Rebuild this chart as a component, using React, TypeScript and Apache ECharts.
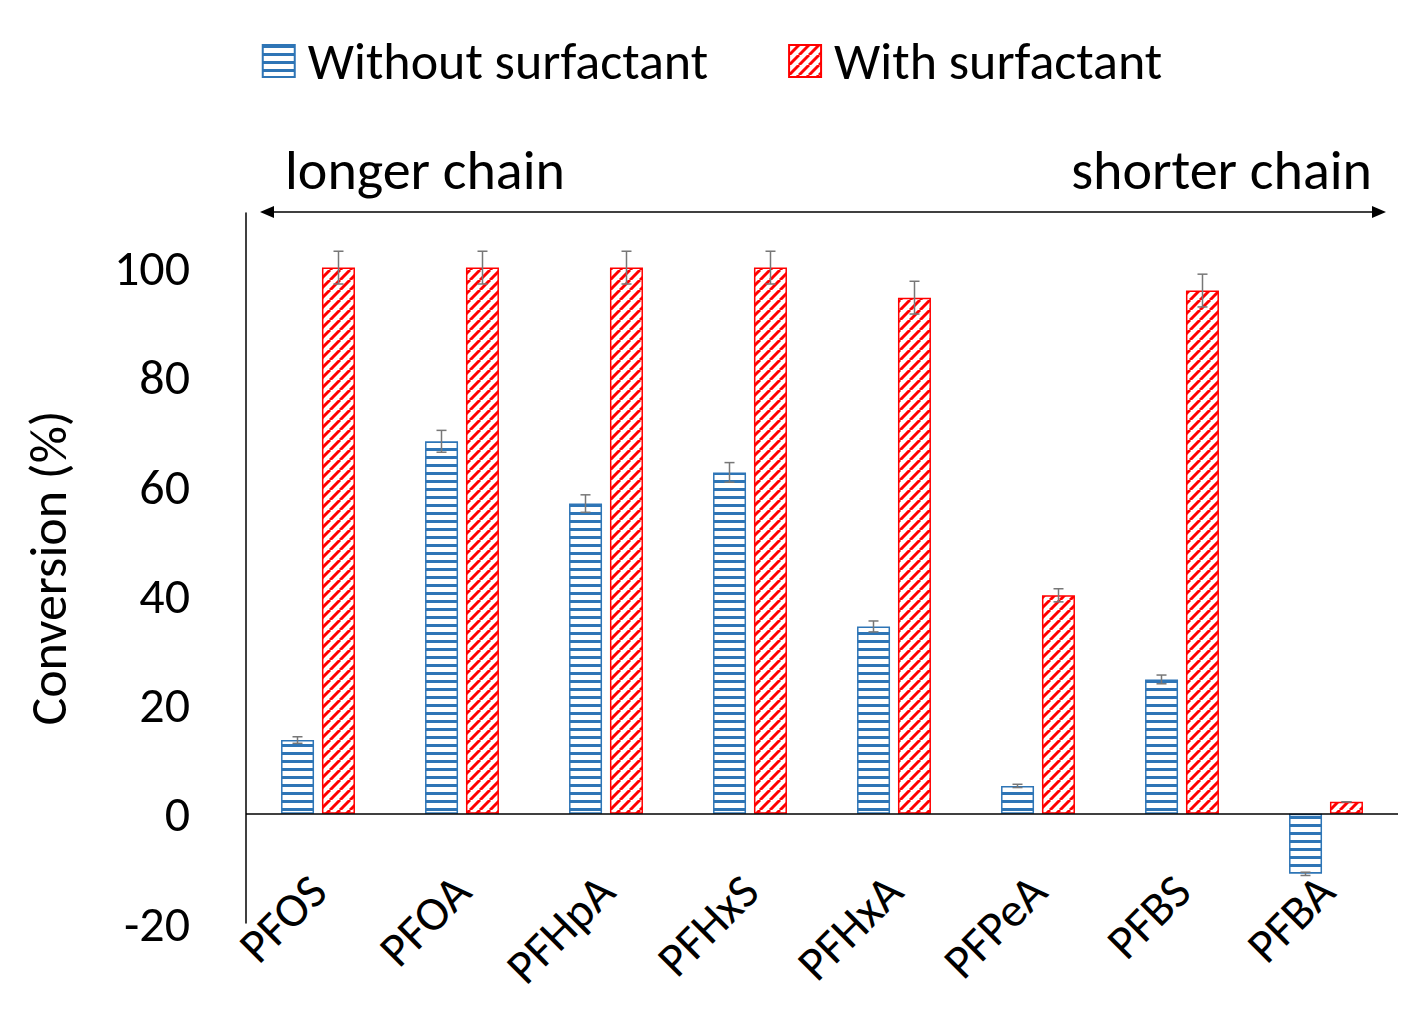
import * as echarts from 'echarts';
import { useEffect, useRef } from 'react';

const categories = ['PFOS', 'PFOA', 'PFHpA', 'PFHxS', 'PFHxA', 'PFPeA', 'PFBS', 'PFBA'];
const withoutValues = [13.5, 68.2, 56.8, 62.5, 34.3, 5.1, 24.6, -11];
const withoutErrors = [0.6, 2.0, 1.6, 1.8, 1.0, 0.3, 0.8, 0.3];
const withValues = [100, 100, 100, 100, 94.5, 40, 95.8, 2.2];
const withErrors = [3, 3, 3, 3, 3, 1.2, 3, 0];
const yTicks = [-20, 0, 20, 40, 60, 80, 100];

const FONT = "Calibri, Carlito, 'Open Sans', 'Noto Sans', sans-serif";

function stripePattern(): HTMLCanvasElement {
  const c = document.createElement('canvas');
  c.width = 8;
  c.height = 8;
  const ctx = c.getContext('2d')!;
  ctx.fillStyle = '#fff';
  ctx.fillRect(0, 0, 8, 8);
  ctx.fillStyle = '#2e75b6';
  ctx.fillRect(0, 0, 8, 3);
  return c;
}

function hatchPattern(): HTMLCanvasElement {
  const s = 10;
  const c = document.createElement('canvas');
  c.width = s;
  c.height = s;
  const ctx = c.getContext('2d')!;
  ctx.fillStyle = '#fff';
  ctx.fillRect(0, 0, s, s);
  ctx.strokeStyle = '#ff0000';
  ctx.lineWidth = 3;
  for (const o of [-s, 0, s]) {
    ctx.beginPath();
    ctx.moveTo(o, s);
    ctx.lineTo(o + s, 0);
    ctx.stroke();
  }
  return c;
}

export default function App() {
  const ref = useRef<HTMLDivElement>(null);

  useEffect(() => {
    const chart = echarts.init(ref.current!, null, { renderer: 'svg' });
    const blue = { image: stripePattern(), repeat: 'repeat' } as any;
    const red = { image: hatchPattern(), repeat: 'repeat' } as any;
    const offset = 20.5;

    const errorSeries = (vals: number[], errs: number[], dx: number) => ({
      type: 'custom',
      z: 5,
      silent: true,
      data: vals.map((v, i) => [i, v, errs[i]]),
      renderItem: (_p: any, api: any) => {
        const i = api.value(0);
        const v = api.value(1);
        const e = api.value(2);
        const top = api.coord([i, v + e]);
        const bot = api.coord([i, v - e]);
        const x = top[0] + dx;
        const st = { stroke: '#777', lineWidth: 1.5 };
        return {
          type: 'group',
          children: [
            { type: 'line', shape: { x1: x, y1: top[1], x2: x, y2: bot[1] }, style: st },
            { type: 'line', shape: { x1: x - 5, y1: top[1], x2: x + 5, y2: top[1] }, style: st },
            { type: 'line', shape: { x1: x - 5, y1: bot[1], x2: x + 5, y2: bot[1] }, style: st },
          ],
        };
      },
    });

    chart.setOption({
      animation: false,
      backgroundColor: '#fff',
      textStyle: { fontFamily: FONT },
      legend: {
        top: 30,
        left: 'center',
        icon: 'rect',
        itemWidth: 32,
        itemHeight: 32,
        itemGap: 80,
        textStyle: { fontSize: 52, color: '#000', fontFamily: FONT, padding: [0, 0, 0, 8] },
        data: ['Without surfactant', 'With surfactant'],
      },
      grid: { left: 246, right: 26, top: 213, bottom: 111 },
      xAxis: {
        type: 'category',
        data: categories,
        axisLine: { show: false },
        axisTick: { show: false },
        axisLabel: {
          rotate: 45,
          fontSize: 48,
          color: '#000',
          margin: -40,
          fontFamily: FONT,
        },
      },
      yAxis: {
        type: 'value',
        min: -20,
        max: 110,
        interval: 20,
        name: 'Conversion (%)',
        nameLocation: 'middle',
        nameGap: 172,
        nameTextStyle: { fontSize: 52, color: '#000', fontFamily: FONT },
        splitLine: { show: false },
        axisLine: { show: true, lineStyle: { color: '#000', width: 1.5 } },
        axisTick: { show: false },
        axisLabel: {
          fontSize: 50,
          color: '#000',
          margin: 56,
          fontFamily: FONT,
          formatter: (v: number) => (yTicks.includes(v) ? String(v) : ''),
        },
      },
      series: [
        {
          name: 'Without surfactant',
          type: 'bar',
          barWidth: 33,
          barGap: '24%',
          data: withoutValues,
          itemStyle: { color: blue, borderColor: '#2e75b6', borderWidth: 1.5 },
          markLine: {
            silent: true,
            symbol: 'none',
            label: { show: false },
            lineStyle: { color: '#000', width: 1.5, type: 'solid' },
            data: [{ yAxis: 0 }],
          },
        },
        {
          name: 'With surfactant',
          type: 'bar',
          barWidth: 33,
          data: withValues,
          itemStyle: { color: red, borderColor: '#ff0000', borderWidth: 1.5 },
        },
        errorSeries(withoutValues, withoutErrors, -offset),
        errorSeries(withValues, withErrors, offset),
      ],
      graphic: [
        { type: 'line', shape: { x1: 264, y1: 212, x2: 1380, y2: 212 }, style: { stroke: '#000', lineWidth: 1.5 } },
        { type: 'polygon', shape: { points: [[260, 212], [274, 206], [274, 218]] }, style: { fill: '#000' } },
        { type: 'polygon', shape: { points: [[1386, 212], [1372, 206], [1372, 218]] }, style: { fill: '#000' } },
        { type: 'text', left: 285, top: 142, style: { text: 'longer chain', fontSize: 56, fill: '#000', fontFamily: FONT } },
        { type: 'text', right: 52, top: 142, style: { text: 'shorter chain', fontSize: 56, fill: '#000', fontFamily: FONT } },
        { type: 'rect', left: 0, top: 0, shape: { width: 1422, height: 1032 }, style: { fill: 'none', stroke: '#d9d9d9', lineWidth: 2 } },
      ],
    });
    return () => chart.dispose();
  }, []);

  return <div ref={ref} style={{ width: 1424, height: 1034, margin: -8 }} />;
}
